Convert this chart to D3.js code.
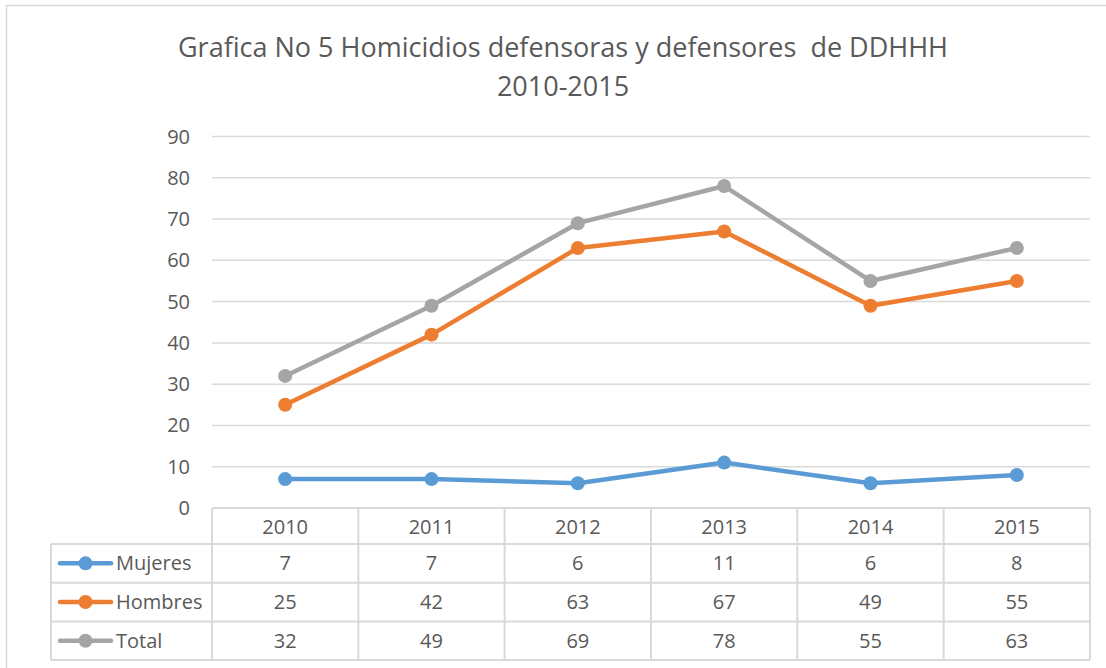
<!DOCTYPE html>
<html>
<head>
  <meta charset="utf-8">
  <title>Grafica No 5</title>
  <script src="https://cdn.jsdelivr.net/npm/d3@7"></script>
  <style>
    html, body { margin: 0; padding: 0; background: #fff; overflow: hidden }
    svg { font-family: "Open Sans", "Noto Sans", sans-serif; }
    .title { white-space: pre; }
  </style>
</head>
<body>
<div id="chart"></div>
<script>
  const years = ['2010', '2011', '2012', '2013', '2014', '2015']
  const mujeres = [7, 7, 6, 11, 6, 8]
  const hombres = [25, 42, 63, 67, 49, 55]
  const total = [32, 49, 69, 78, 55, 63]
  const yTicks = [0, 10, 20, 30, 40, 50, 60, 70, 80, 90]

  const series = [
    { name: 'Mujeres', values: mujeres, color: '#5B9BD5' },
    { name: 'Hombres', values: hombres, color: '#ED7D31' },
    { name: 'Total', values: total, color: '#A5A5A5' }
  ]

  const W = 1106, H = 668
  const plotLeft = 212, plotRight = 1090, plotTop = 136.5, plotBottom = 508
  const textColor = '#595959'
  const gridColor = '#d9d9d9'
  const labelSize = '20px'

  const svg = d3.select('#chart').append('svg')
    .attr('width', W).attr('height', H)

  // chart frame
  svg.append('rect')
    .attr('x', 6.5).attr('y', 5.5)
    .attr('width', W + 10).attr('height', H + 10)
    .attr('fill', 'none').attr('stroke', gridColor).attr('stroke-width', 1.5)

  // title
  svg.append('text')
    .attr('class', 'title')
    .attr('x', 563).attr('y', 57)
    .attr('text-anchor', 'middle')
    .attr('fill', textColor).style('font-size', '27px')
    .text('Grafica No 5 Homicidios defensoras y defensores  de DDHHH')
  svg.append('text')
    .attr('class', 'title')
    .attr('x', 563).attr('y', 96)
    .attr('text-anchor', 'middle')
    .attr('fill', textColor).style('font-size', '27px')
    .text('2010-2015')

  const x = d3.scaleBand().domain(years).range([plotLeft, plotRight])
  const y = d3.scaleLinear().domain([0, 90]).range([plotBottom, plotTop])

  // gridlines
  svg.append('g')
    .selectAll('line')
    .data(yTicks.slice(1))
    .enter().append('line')
    .attr('x1', plotLeft).attr('x2', plotRight)
    .attr('y1', d => y(d)).attr('y2', d => y(d))
    .attr('stroke', gridColor).attr('stroke-width', 1.5)

  // y axis labels
  svg.append('g')
    .selectAll('text')
    .data(yTicks)
    .enter().append('text')
    .attr('x', 190)
    .attr('y', d => y(d))
    .attr('dy', '0.35em')
    .attr('text-anchor', 'end')
    .attr('fill', textColor).style('font-size', labelSize)
    .text(d => d)

  // data table
  const rowTop = plotBottom, headerH = 36, rowH = 38.7
  const legendLeft = 51
  const table = svg.append('g')
    .attr('stroke', gridColor).attr('stroke-width', 2).attr('fill', 'none')

  // horizontal rules
  const rowLines = [0, 1, 2, 3].map(i => rowTop + headerH + i * rowH)
  table.append('line')
    .attr('x1', plotLeft).attr('x2', plotRight).attr('y1', rowTop).attr('y2', rowTop)
  table.selectAll('.h').data(rowLines).enter().append('line')
    .attr('x1', legendLeft).attr('x2', plotRight)
    .attr('y1', d => d).attr('y2', d => d)
  // vertical rules
  table.append('line')
    .attr('x1', legendLeft).attr('x2', legendLeft)
    .attr('y1', rowTop + headerH).attr('y2', rowLines[3])
  table.selectAll('.v').data(years.map(d => x(d)).concat([plotRight])).enter().append('line')
    .attr('x1', d => d).attr('x2', d => d)
    .attr('y1', rowTop).attr('y2', rowLines[3])

  // header years
  svg.append('g').selectAll('text')
    .data(years).enter().append('text')
    .attr('x', d => x(d) + x.bandwidth() / 2)
    .attr('y', rowTop + headerH / 2 + 1)
    .attr('dy', '0.35em')
    .attr('text-anchor', 'middle')
    .attr('fill', textColor).style('font-size', labelSize)
    .text(d => d)

  series.forEach((s, si) => {
    const cy = rowLines[si] + rowH / 2
    // legend key
    svg.append('line')
      .attr('x1', 60).attr('x2', 111).attr('y1', cy).attr('y2', cy)
      .attr('stroke', s.color).attr('stroke-width', 4.5).attr('stroke-linecap', 'round')
    svg.append('circle')
      .attr('cx', 85.5).attr('cy', cy).attr('r', 7).attr('fill', s.color)
    svg.append('text')
      .attr('x', 116).attr('y', cy).attr('dy', '0.35em')
      .attr('fill', textColor).style('font-size', labelSize)
      .text(s.name)
    // values
    svg.append('g').selectAll('text')
      .data(s.values).enter().append('text')
      .attr('x', (d, i) => x(years[i]) + x.bandwidth() / 2)
      .attr('y', cy).attr('dy', '0.35em')
      .attr('text-anchor', 'middle')
      .attr('fill', textColor).style('font-size', labelSize)
      .text(d => d)
  })

  // lines; Total drawn first so Mujeres ends on top
  const line = d3.line()
    .x((d, i) => x(years[i]) + x.bandwidth() / 2)
    .y(d => y(d))

  series.slice().reverse().forEach(s => {
    const g = svg.append('g')
    g.append('path')
      .datum(s.values)
      .attr('d', line)
      .attr('fill', 'none')
      .attr('stroke', s.color)
      .attr('stroke-width', 4.5)
      .attr('stroke-linejoin', 'round')
      .attr('stroke-linecap', 'round')
    g.selectAll('circle')
      .data(s.values).enter().append('circle')
      .attr('cx', (d, i) => x(years[i]) + x.bandwidth() / 2)
      .attr('cy', d => y(d))
      .attr('r', 7)
      .attr('fill', s.color)
  })
</script>
</body>
</html>
